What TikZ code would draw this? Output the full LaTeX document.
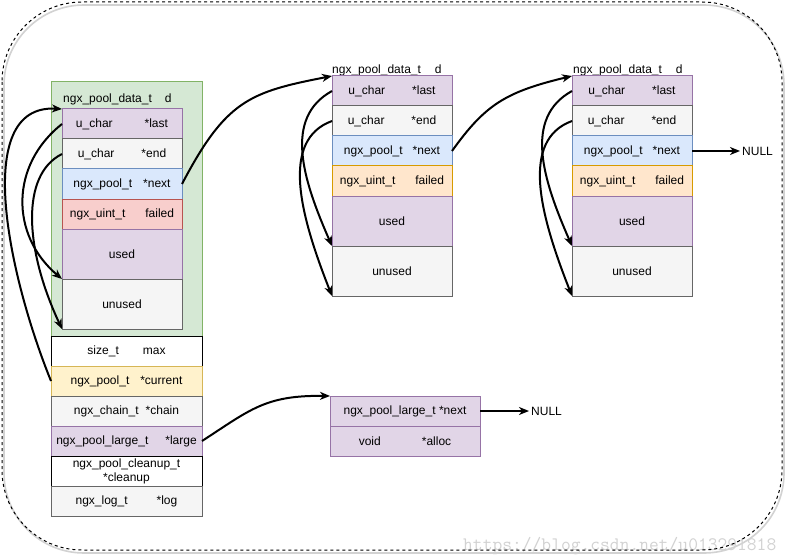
\documentclass[tikz,border=0pt]{standalone}
\usepackage{fontspec}
\setmainfont{Liberation Sans}
\usetikzlibrary{arrows.meta,calc}
\definecolor{purF}{HTML}{E1D5E7}\definecolor{purD}{HTML}{9673A6}
\definecolor{greyF}{HTML}{F5F5F5}\definecolor{greyD}{HTML}{666666}
\definecolor{bluF}{HTML}{DAE8FC}\definecolor{bluD}{HTML}{6C8EBF}
\definecolor{redF}{HTML}{F8CECC}\definecolor{redD}{HTML}{B85450}
\definecolor{oraF}{HTML}{FFE6CC}\definecolor{oraD}{HTML}{D79B00}
\definecolor{yelF}{HTML}{FFF2CC}\definecolor{yelD}{HTML}{D6B656}
\definecolor{grnF}{HTML}{D5E8D4}\definecolor{grnD}{HTML}{82B366}
\definecolor{wmC}{HTML}{D2D2D2}
\begin{document}
\begin{tikzpicture}[x=1pt,y=-1pt,
  cell/.style={anchor=north west, inner sep=0pt, outer sep=0pt,
    minimum width=#1pt, minimum height=30pt, line width=1pt,
    font=\fontsize{12}{14}\selectfont, align=center},
  pur/.style={fill=purF, draw=purD},
  gry/.style={fill=greyF, draw=greyD},
  blu/.style={fill=bluF, draw=bluD},
  rdd/.style={fill=redF, draw=redD},
  ora/.style={fill=oraF, draw=oraD},
  yel/.style={fill=yelF, draw=yelD},
  wht/.style={fill=white, draw=black},
  lbl/.style={anchor=base west, inner sep=0pt, font=\fontsize{12}{14}\selectfont},
  nul/.style={anchor=west, inner sep=2pt, font=\fontsize{12}{14}\selectfont},
  conn/.style={line width=2pt, -{Stealth[length=10pt,width=8pt,inset=3pt]}}]
\useasboundingbox (0,0) rectangle (794,556);
\fill[white] (0,0) rectangle (794,556);

% watermark
\node[anchor=base west, inner sep=0pt, text=wmC, font=\ttfamily\fontsize{19}{21}\selectfont] (wm) at (463,550) {https://blog.csdn.net/u013291818};

% outer frame with shadow
\draw[gray!35, line width=1.6pt, rounded corners=80pt] (4,5) rectangle (784,553);
\draw[black, line width=1pt, dash pattern=on 3pt off 3pt, rounded corners=80pt] (2,2) rectangle (782,550);

% first pool
\node[cell=151, minimum height=254pt, fill=grnF, draw=grnD] (p1) at (51,82) {};
\node[lbl] (p1lbl) at (63,103) {ngx\_pool\_data\_t\hspace{13pt}d};
\node[cell=120, pur] (p1last) at (62,109) {u\_char\hspace{32pt}*last};
\node[cell=120, gry] (p1end) at (62,139) {u\_char\hspace{27pt}*end};
\node[cell=120, blu] (p1next) at (62,169) {ngx\_pool\_t\hspace{11pt}*next};
\node[cell=120, rdd] (p1failed) at (62,199) {ngx\_uint\_t\hspace{20pt}failed};
\node[cell=120, minimum height=50pt, pur] (p1used) at (62,229) {used};
\node[cell=120, minimum height=50pt, gry] (p1unused) at (62,279) {unused};

\node[cell=151, wht] (p1max) at (51,336) {size\_t\hspace{24pt}max};
\node[cell=151, yel] (p1cur) at (51,366) {ngx\_pool\_t\hspace{11pt}*current};
\node[cell=151, gry] (p1chain) at (51,396) {ngx\_chain\_t\hspace{7pt}*chain};
\node[cell=151, pur] (p1large) at (51,426) {ngx\_pool\_large\_t\hspace{17pt}*large};
\node[cell=151, wht] (p1clean) at (51,456) {ngx\_pool\_cleanup\_t\\[0pt]*cleanup};
\node[cell=151, gry] (p1log) at (51,486) {ngx\_log\_t\hspace{29pt}*log};

% second pool
\node[lbl] (p2lbl) at (332,74) {ngx\_pool\_data\_t\hspace{14pt}d};
\node[cell=120, pur] (p2last) at (332,76) {u\_char\hspace{27pt}*last};
\node[cell=120, gry] (p2end) at (332,106) {u\_char\hspace{27pt}*end};
\node[cell=120, blu] (p2next) at (332,136) {ngx\_pool\_t\hspace{10pt}*next};
\node[cell=120, ora] (p2failed) at (332,166) {ngx\_uint\_t\hspace{20pt}failed};
\node[cell=120, minimum height=50pt, pur] (p2used) at (332,196) {used};
\node[cell=120, minimum height=50pt, gry] (p2unused) at (332,246) {unused};

% third pool
\node[lbl] (p3lbl) at (573,74) {ngx\_pool\_data\_t\hspace{14pt}d};
\node[cell=120, pur] (p3last) at (572,76) {u\_char\hspace{27pt}*last};
\node[cell=120, gry] (p3end) at (572,106) {u\_char\hspace{27pt}*end};
\node[cell=120, blu] (p3next) at (572,136) {ngx\_pool\_t\hspace{10pt}*next};
\node[cell=120, ora] (p3failed) at (572,166) {ngx\_uint\_t\hspace{20pt}failed};
\node[cell=120, minimum height=50pt, pur] (p3used) at (572,196) {used};
\node[cell=120, minimum height=50pt, gry] (p3unused) at (572,246) {unused};

% large block
\node[cell=150, pur] (lnext) at (330,396) {ngx\_pool\_large\_t *next};
\node[cell=150, pur] (lalloc) at (330,426) {void\hspace{41pt}*alloc};

% NULL targets
\node[nul] (null1) at (740,151) {NULL};
\node[nul] (null2) at (529,411) {NULL};

% connectors
\draw[conn] (p1next.east) .. controls ($(p1next.east)+(44,-84)$) and ($(p2last.north west)+(-82,16)$) .. (p2last.north west);
\draw[conn] (p2next.east) .. controls ($(p2next.east)+(33,-46)$) and ($(p3last.north west)+(-67,16)$) .. (p3last.north west);
\draw[conn] (p1large.east) .. controls ($(p1large.east)+(48,-31)$) and ($(lnext.north west)+(-65,-1)$) .. (lnext.north west);
\draw[conn] (p3next.east) -- (null1.west);
\draw[conn] (lnext.east) -- (null2.west);

% pool 1 self pointers
\draw[conn] (p1last.west) .. controls ($(p1last.west)+(-52,41)$) and ($(p1unused.north west)+(-52,-44)$) .. (p1unused.north west);
\draw[conn] (p1end.west) .. controls ($(p1end.west)+(-42,21)$) and ($(p1unused.south west)+(-37,-79)$) .. (p1unused.south west);
\draw[conn] (p1cur.west) .. controls ($(p1cur.west)+(-41,-101)$) and ($(p1last.north west)+(-92,-5)$) .. (p1last.north west);

% pool 2 self pointers
\draw[conn] (p2last.west) .. controls ($(p2last.west)+(-49,27)$) and ($(p2unused.north west)+(-29,-66)$) .. (p2unused.north west);
\draw[conn] (p2end.west) .. controls ($(p2end.west)+(-52,19)$) and ($(p2unused.south west)+(-32,-81)$) .. (p2unused.south west);

% pool 3 self pointers
\draw[conn] (p3last.west) .. controls ($(p3last.west)+(-49,27)$) and ($(p3unused.north west)+(-29,-66)$) .. (p3unused.north west);
\draw[conn] (p3end.west) .. controls ($(p3end.west)+(-52,19)$) and ($(p3unused.south west)+(-32,-81)$) .. (p3unused.south west);
\end{tikzpicture}
\end{document}
